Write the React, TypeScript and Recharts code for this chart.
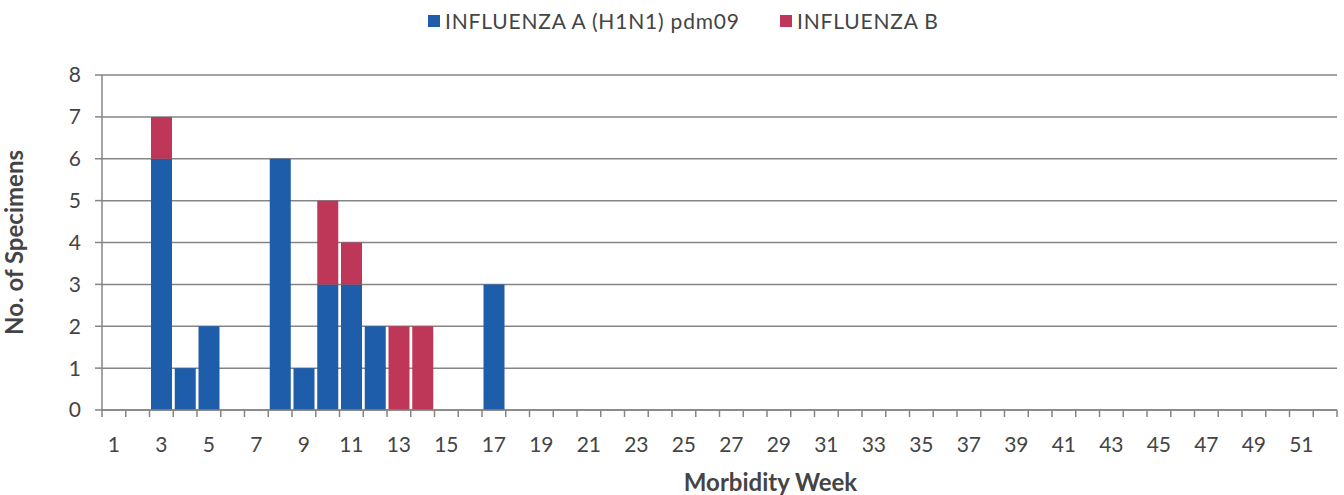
import { BarChart, Bar, XAxis, YAxis, CartesianGrid, Legend } from 'recharts'

const weeks = [
  1, 2, 3, 4, 5, 6, 7, 8, 9, 10, 11, 12, 13, 14, 15, 16, 17, 18, 19, 20, 21, 22, 23, 24, 25, 26,
  27, 28, 29, 30, 31, 32, 33, 34, 35, 36, 37, 38, 39, 40, 41, 42, 43, 44, 45, 46, 47, 48, 49, 50, 51, 52,
]
const h1n1 = [
  0, 0, 6, 1, 2, 0, 0, 6, 1, 3, 3, 2, 0, 0, 0, 0, 3, 0, 0, 0, 0, 0, 0, 0, 0, 0,
  0, 0, 0, 0, 0, 0, 0, 0, 0, 0, 0, 0, 0, 0, 0, 0, 0, 0, 0, 0, 0, 0, 0, 0, 0, 0,
]
const fluB = [
  0, 0, 1, 0, 0, 0, 0, 0, 0, 2, 1, 0, 2, 2, 0, 0, 0, 0, 0, 0, 0, 0, 0, 0, 0, 0,
  0, 0, 0, 0, 0, 0, 0, 0, 0, 0, 0, 0, 0, 0, 0, 0, 0, 0, 0, 0, 0, 0, 0, 0, 0, 0,
]
const yTicks = [0, 1, 2, 3, 4, 5, 6, 7, 8]
const seriesNames = ['INFLUENZA A (H1N1) pdm09', 'INFLUENZA B']
const colors = ['#1d5daa', '#be3759']

const data = weeks.map((w, i) => ({ week: w, a: h1n1[i], b: fluB[i] }))

const W = 1344
const H = 495
const PLOT_LEFT = 102
const PLOT_RIGHT = 7
const X_AXIS_H = 85
const BAND = (W - PLOT_LEFT - PLOT_RIGHT) / weeks.length
const FONT = 'Lato, "Open Sans", sans-serif'
const TEXT = '#444'
const AXIS = '#858585'

function WeekTick(props: any) {
  const { x, y, payload, index } = props
  const left = x - BAND / 2
  return (
    <g>
      <line x1={left} x2={left} y1={y} y2={y + 7} stroke={AXIS} strokeWidth={1.5} />
      {index === weeks.length - 1 && (
        <line x1={x + BAND / 2} x2={x + BAND / 2} y1={y} y2={y + 7} stroke={AXIS} strokeWidth={1.5} />
      )}
      {payload.value % 2 === 1 && (
        <text x={x} y={y + 42} textAnchor="middle" fontSize={21} fill={TEXT} fontFamily={FONT}>
          {payload.value}
        </text>
      )}
    </g>
  )
}

function XTitle(props: any) {
  const { viewBox } = props
  return (
    <text
      x={viewBox.x + viewBox.width / 2 + 51}
      y={viewBox.y + 81}
      textAnchor="middle"
      fontSize={24}
      fontWeight={700}
      fill={TEXT}
      fontFamily={FONT}
    >
      Morbidity Week
    </text>
  )
}

function LegendBox() {
  const lefts = [428, 780]
  return (
    <div style={{ position: 'relative', height: 0 }}>
      {seriesNames.map((n, i) => (
        <div
          key={n}
          style={{
            position: 'absolute',
            left: lefts[i],
            top: 0,
            display: 'flex',
            alignItems: 'center',
            whiteSpace: 'nowrap',
            fontSize: 21,
            letterSpacing: 0.8,
            color: TEXT,
            fontFamily: FONT,
          }}
        >
          <span style={{ width: 12, height: 12, background: colors[i], marginRight: 5, display: 'inline-block' }} />
          {n}
        </div>
      ))}
    </div>
  )
}

export default function App() {
  return (
    <div style={{ position: 'absolute', left: 0, top: 0, width: W, height: H, background: '#fff', fontFamily: FONT }}>
      <BarChart
        width={W}
        height={H}
        data={data}
        margin={{ top: 75, right: PLOT_RIGHT, left: 0, bottom: 0 }}
        barCategoryGap={1.5}
      >
        <CartesianGrid vertical={false} stroke={AXIS} strokeWidth={1.5} />
        <XAxis
          dataKey="week"
          height={X_AXIS_H}
          interval={0}
          tickSize={0}
          tickMargin={0}
          tickLine={false}
          tick={<WeekTick />}
          stroke={AXIS}
          strokeWidth={1.5}
          label={<XTitle />}
        />
        <YAxis
          width={PLOT_LEFT}
          domain={[0, 8]}
          ticks={yTicks}
          interval={0}
          tickSize={7}
          tickMargin={14}
          stroke={AXIS}
          strokeWidth={1.5}
          tick={{ fill: TEXT, fontSize: 21, fontFamily: FONT }}
          label={{
            value: 'No. of Specimens',
            angle: -90,
            position: 'insideLeft',
            offset: 14,
            style: { textAnchor: 'middle' },
            fill: TEXT,
            fontSize: 24,
            fontWeight: 700,
            fontFamily: FONT,
          }}
        />
        <Legend verticalAlign="top" align="left" content={<LegendBox />} wrapperStyle={{ top: 8, left: 0, height: 0 }} />
        <Bar dataKey="a" name={seriesNames[0]} stackId="s" fill={colors[0]} isAnimationActive={false} />
        <Bar dataKey="b" name={seriesNames[1]} stackId="s" fill={colors[1]} isAnimationActive={false} />
      </BarChart>
    </div>
  )
}
